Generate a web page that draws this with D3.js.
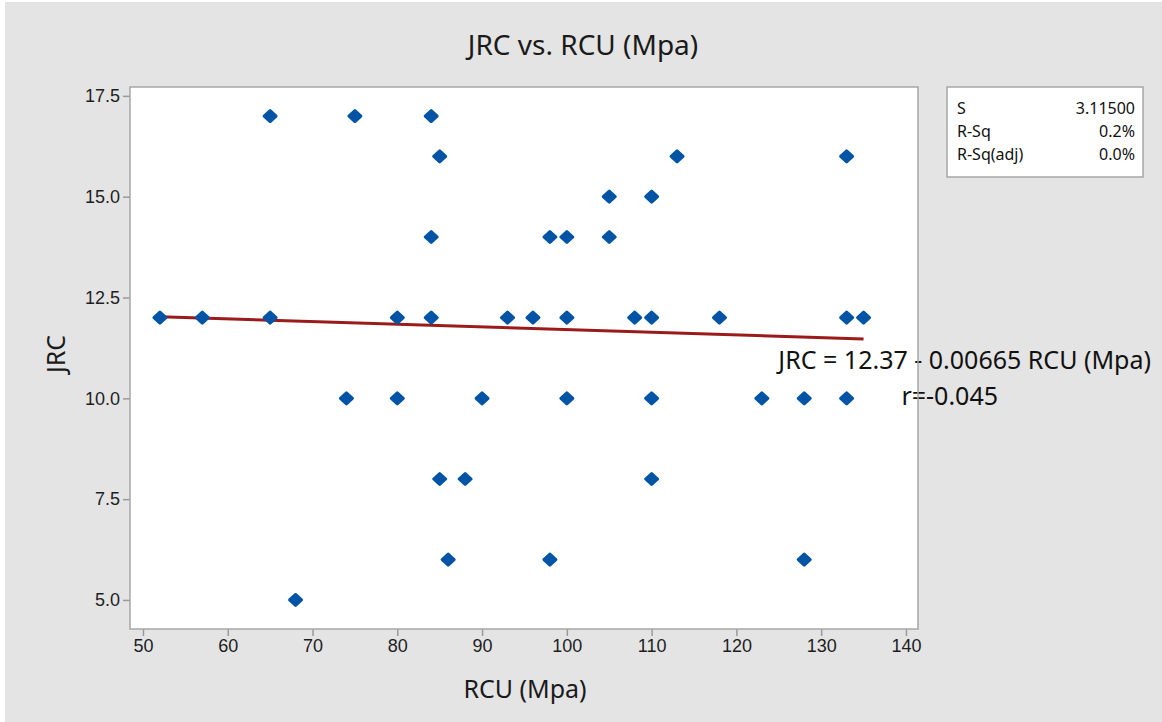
<!DOCTYPE html>
<html>
<head>
<meta charset="utf-8">
<script src="https://cdn.jsdelivr.net/npm/d3@7"></script>
<style>
  html, body { margin: 0; padding: 0; background: #ffffff; }
  svg { display: block; font-family: "Noto Sans", "Open Sans", sans-serif; }
</style>
</head>
<body>
<svg id="canvas" width="1162" height="722"></svg>
<script>
'use strict';

// RCU (Mpa) and JRC values
var rcu = [65, 75, 84,
           85, 113, 133,
           105, 110,
           84, 98, 100, 105,
           52, 57, 65, 80, 84, 93, 96, 100, 108, 110, 118, 133, 135,
           74, 80, 90, 100, 110, 123, 128, 133,
           85, 88, 110,
           86, 98, 128,
           68];
var jrc = [17, 17, 17,
           16, 16, 16,
           15, 15,
           14, 14, 14, 14,
           12, 12, 12, 12, 12, 12, 12, 12, 12, 12, 12, 12, 12,
           10, 10, 10, 10, 10, 10, 10, 10,
           8, 8, 8,
           6, 6, 6,
           5];

var xTicks = [50, 60, 70, 80, 90, 100, 110, 120, 130, 140];
var yTicks = [5.0, 7.5, 10.0, 12.5, 15.0, 17.5];

// fitted line JRC = 12.37 - 0.00665 RCU
var fitIntercept = 12.37;
var fitSlope = -0.00665;

var statLabels = ['S', 'R-Sq', 'R-Sq(adj)'];
var statValues = ['3.11500', '0.2%', '0.0%'];

// plot area in pixels
var plot = {left: 130, right: 918, top: 87, bottom: 629};

var svg = d3.select('svg#canvas');

/* grey panel behind everything, with a thin white strip at top/left */
svg.append('rect')
  .attr('x', 5).attr('y', 2)
  .attr('width', 1162).attr('height', 722)
  .attr('fill', '#e4e4e4');

var x = d3.scaleLinear().domain([48.47, 141.42]).range([plot.left, plot.right]);
var y = d3.scaleLinear().domain([4.28, 17.72]).range([plot.bottom, plot.top]);

svg.append('rect')
  .attr('x', plot.left).attr('y', plot.top)
  .attr('width', plot.right - plot.left).attr('height', plot.bottom - plot.top)
  .attr('fill', '#ffffff');

/* axes */
var xAxis = d3.axisBottom(x).tickValues(xTicks).tickSize(7).tickSizeOuter(0).tickPadding(3)
  .tickFormat(d3.format('d'));
var yAxis = d3.axisLeft(y).tickValues(yTicks).tickSize(7).tickSizeOuter(0).tickPadding(3)
  .tickFormat(d3.format('.1f'));

var gx = svg.append('g')
  .attr('transform', 'translate(0,' + plot.bottom + ')')
  .call(xAxis);
var gy = svg.append('g')
  .attr('transform', 'translate(' + plot.left + ',0)')
  .call(yAxis);

[gx, gy].forEach(function(g){
  g.select('.domain').remove();
  g.selectAll('.tick line').attr('stroke', '#9a9a9a').attr('stroke-width', 1.5);
  g.selectAll('.tick text')
    .attr('fill', '#1e1e1e')
    .style('font-size', '18px');
});

/* fitted regression line over the data range */
var xmin = d3.min(rcu), xmax = d3.max(rcu);
svg.append('line')
  .attr('x1', x(xmin)).attr('y1', y(fitIntercept + fitSlope * xmin))
  .attr('x2', x(xmax)).attr('y2', y(fitIntercept + fitSlope * xmax))
  .attr('stroke', '#9b1a1a')
  .attr('stroke-width', 3);

/* data points as rounded blue diamonds */
var diamond = 'M0,-5.5 L6,0 L0,5.5 L-6,0 Z';
svg.append('g')
  .selectAll('path')
  .data(rcu.map(function(v, i){ return {x: v, y: jrc[i]}; }))
  .join('path')
    .attr('d', diamond)
    .attr('transform', function(d){ return 'translate(' + x(d.x) + ',' + y(d.y) + ')'; })
    .attr('fill', '#0054a6')
    .attr('stroke', '#0054a6')
    .attr('stroke-width', 3)
    .attr('stroke-linejoin', 'round');

/* equation annotation */
svg.append('text')
  .attr('x', 1151).attr('y', 369)
  .attr('text-anchor', 'end')
  .attr('fill', '#111111')
  .style('font-size', '25px')
  .text('JRC = 12.37 - 0.00665 RCU (Mpa)');
svg.append('text')
  .attr('x', 998).attr('y', 405)
  .attr('text-anchor', 'end')
  .attr('fill', '#111111')
  .style('font-size', '25px')
  .text('r=-0.045');

/* plot border (drawn over the annotation, as in the original) */
svg.append('rect')
  .attr('x', plot.left).attr('y', plot.top)
  .attr('width', plot.right - plot.left).attr('height', plot.bottom - plot.top)
  .attr('fill', 'none')
  .attr('stroke', '#a6a6a6')
  .attr('stroke-width', 1.5);

/* title and axis labels */
svg.append('text')
  .attr('x', 583).attr('y', 55)
  .attr('text-anchor', 'middle')
  .attr('fill', '#1a1a1a')
  .style('font-size', '28px')
  .text('JRC vs. RCU (Mpa)');
svg.append('text')
  .attr('x', 525).attr('y', 698)
  .attr('text-anchor', 'middle')
  .attr('fill', '#1a1a1a')
  .style('font-size', '25px')
  .text('RCU (Mpa)');
svg.append('text')
  .attr('transform', 'translate(65,354) rotate(-90)')
  .attr('text-anchor', 'middle')
  .attr('fill', '#1a1a1a')
  .style('font-size', '25px')
  .text('JRC');

/* summary box */
var box = svg.append('g').attr('transform', 'translate(947,87)');
box.append('rect')
  .attr('width', 196).attr('height', 90)
  .attr('fill', '#ffffff')
  .attr('stroke', '#a6a6a6')
  .attr('stroke-width', 1.5);
box.selectAll('text.lab')
  .data(statLabels)
  .join('text')
    .attr('class', 'lab')
    .attr('x', 10)
    .attr('y', function(d, i){ return 27 + i * 23; })
    .attr('fill', '#111111')
    .style('font-size', '16px')
    .text(function(d){ return d; });
box.selectAll('text.val')
  .data(statValues)
  .join('text')
    .attr('class', 'val')
    .attr('x', 188)
    .attr('y', function(d, i){ return 27 + i * 23; })
    .attr('text-anchor', 'end')
    .attr('fill', '#111111')
    .style('font-size', '16px')
    .text(function(d){ return d; });
</script>
</body>
</html>
